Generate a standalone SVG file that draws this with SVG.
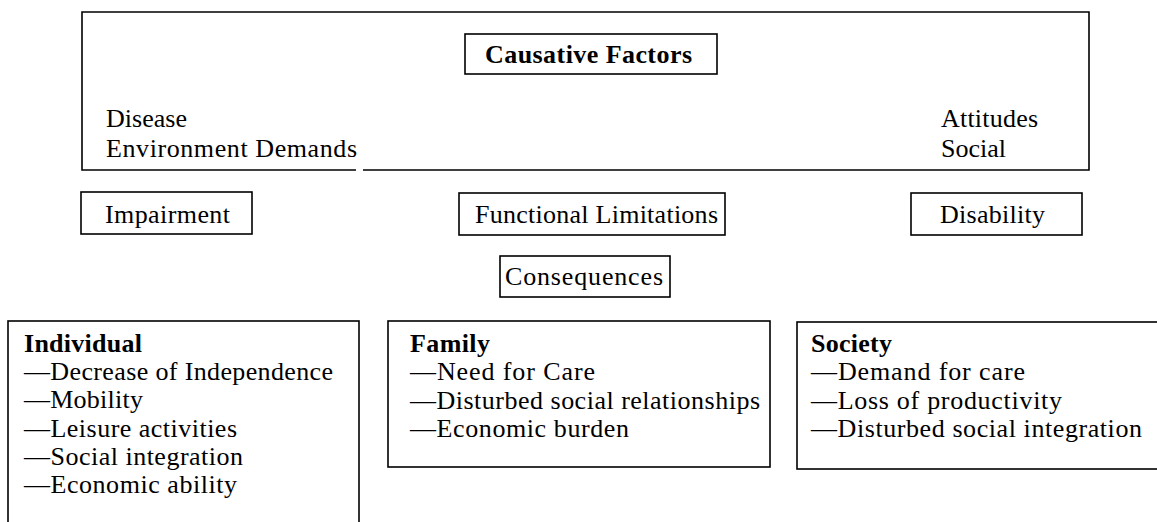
<svg xmlns="http://www.w3.org/2000/svg" width="1157" height="522" viewBox="0 0 1157 522">
<style>
.box{fill:none;stroke:#000;stroke-width:1.6}
.t{font-family:"Liberation Serif","Times New Roman",serif;font-size:26px;fill:#000}
.b{font-weight:bold}
</style>
<rect width="1157" height="522" fill="#fff"/>
<g id="causative-factors">
  <path class="box" d="M356,170 H82 V12 H1089 V170 H363"/>
  <rect class="box" x="465" y="34" width="252" height="40"/>
  <text class="t b" x="485" y="63" font-size="27" textLength="207" lengthAdjust="spacing">Causative Factors</text>
  <text class="t" x="106" y="127" textLength="81" lengthAdjust="spacing">Disease</text>
  <text class="t" x="106" y="157" textLength="251" lengthAdjust="spacing">Environment Demands</text>
  <text class="t" x="941" y="127" textLength="97" lengthAdjust="spacing">Attitudes</text>
  <text class="t" x="941" y="157" textLength="65" lengthAdjust="spacing">Social</text>
</g>
<g id="impairment">
  <rect class="box" x="81" y="192" width="171" height="42"/>
  <text class="t" x="105" y="223" textLength="125" lengthAdjust="spacing">Impairment</text>
</g>
<g id="functional-limitations">
  <rect class="box" x="459" y="193" width="266" height="42"/>
  <text class="t" x="475" y="223" textLength="243" lengthAdjust="spacing">Functional Limitations</text>
</g>
<g id="disability">
  <rect class="box" x="911" y="193" width="171" height="42"/>
  <text class="t" x="940" y="223" textLength="105" lengthAdjust="spacing">Disability</text>
</g>
<g id="consequences">
  <rect class="box" x="500" y="256" width="170" height="41"/>
  <text class="t" x="505" y="285" textLength="158" lengthAdjust="spacing">Consequences</text>
</g>
<g id="individual">
  <rect class="box" x="8" y="321" width="351" height="215"/>
  <text class="t b" x="24" y="352" textLength="118" lengthAdjust="spacing">Individual</text>
  <text class="t" x="24" y="380" textLength="309" lengthAdjust="spacing">—Decrease of Independence</text>
  <text class="t" x="24" y="408" textLength="119" lengthAdjust="spacing">—Mobility</text>
  <text class="t" x="24" y="437" textLength="213" lengthAdjust="spacing">—Leisure activities</text>
  <text class="t" x="24" y="465" textLength="219" lengthAdjust="spacing">—Social integration</text>
  <text class="t" x="24" y="493" textLength="213" lengthAdjust="spacing">—Economic ability</text>
</g>
<g id="family">
  <rect class="box" x="388" y="321" width="382" height="146"/>
  <text class="t b" x="410" y="352" textLength="80" lengthAdjust="spacing">Family</text>
  <text class="t" x="410" y="380" textLength="185" lengthAdjust="spacing">—Need for Care</text>
  <text class="t" x="410" y="409" textLength="350" lengthAdjust="spacing">—Disturbed social relationships</text>
  <text class="t" x="410" y="437" textLength="219" lengthAdjust="spacing">—Economic burden</text>
</g>
<g id="society">
  <rect class="box" x="797" y="322" width="380" height="147"/>
  <text class="t b" x="811" y="352" textLength="81" lengthAdjust="spacing">Society</text>
  <text class="t" x="811" y="380" textLength="214" lengthAdjust="spacing">—Demand for care</text>
  <text class="t" x="811" y="409" textLength="251" lengthAdjust="spacing">—Loss of productivity</text>
  <text class="t" x="811" y="437" textLength="331" lengthAdjust="spacing">—Disturbed social integration</text>
</g>
<g id="connectors"></g>
</svg>
